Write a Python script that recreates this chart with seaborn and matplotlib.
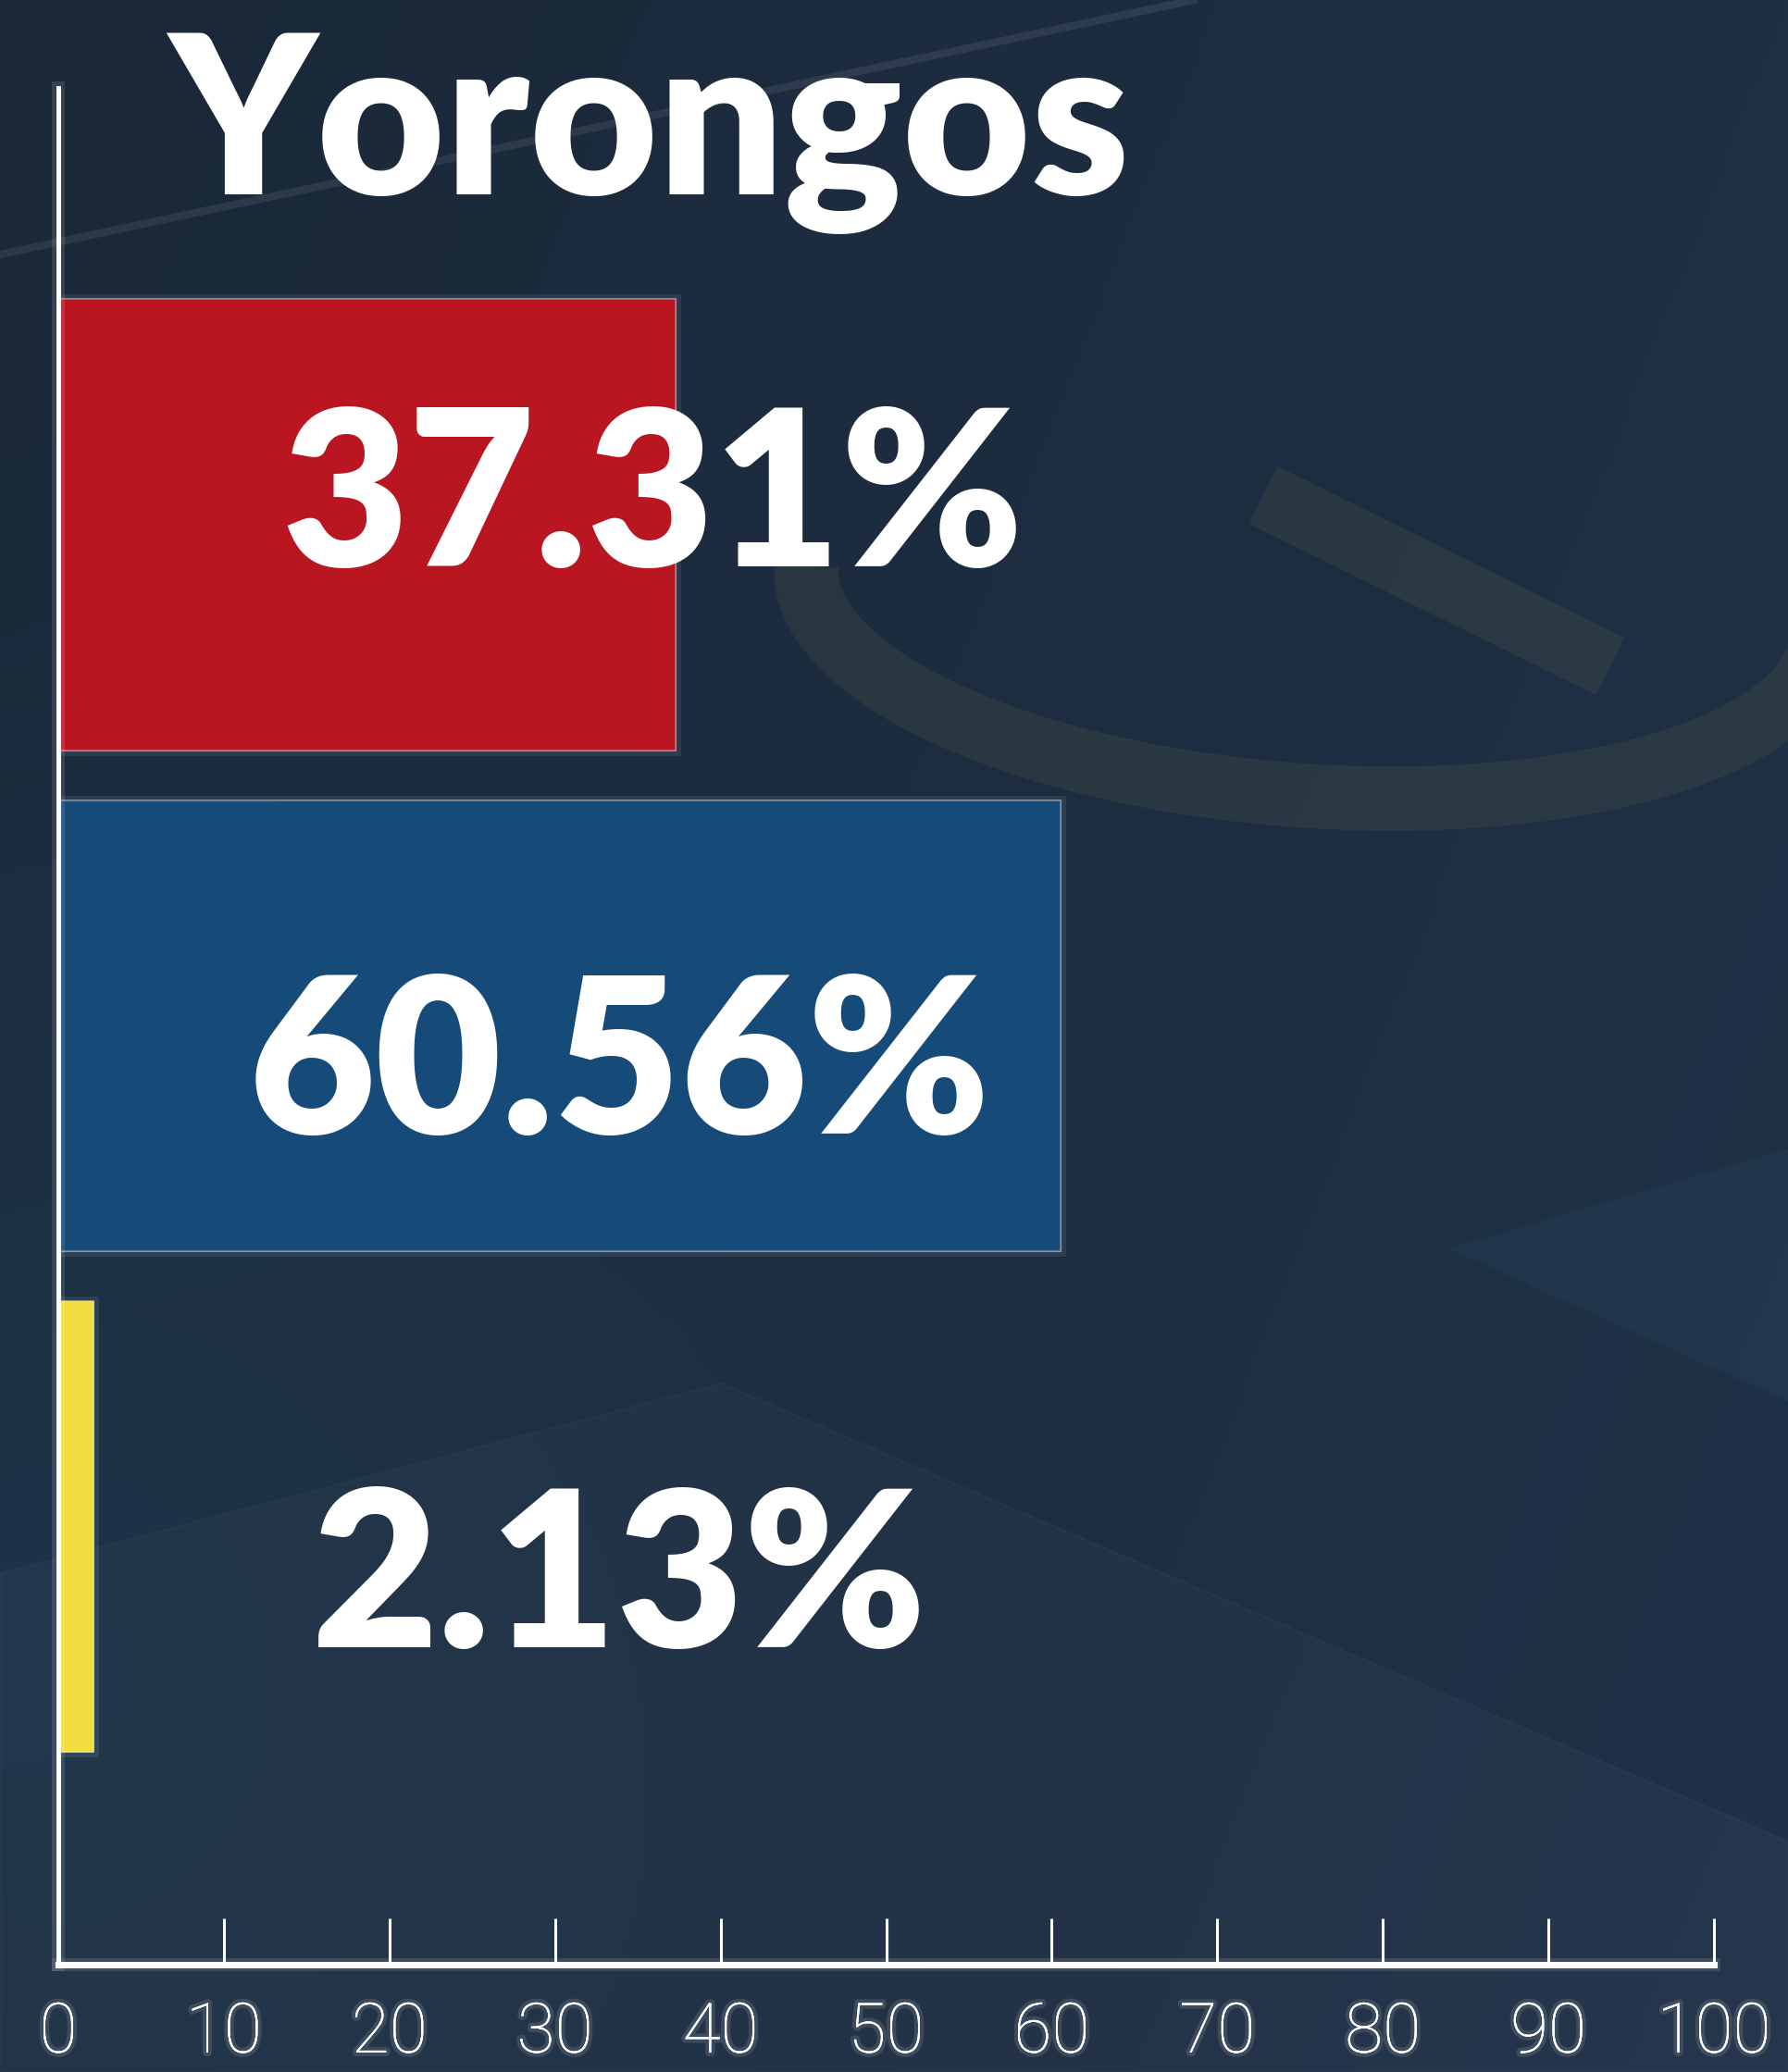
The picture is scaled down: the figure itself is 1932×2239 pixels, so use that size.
import numpy as np
import pandas as pd
import matplotlib
matplotlib.use("Agg")
import matplotlib.pyplot as plt
import matplotlib.patheffects as pe
from matplotlib.patches import Arc, Polygon
import seaborn as sns

# data
categories = ["Opción A", "Opción B", "Opción C"]
values = [37.31, 60.56, 2.13]
bar_colors = ["#BA1622", "#164A78", "#F2DD3F"]
title = "Yorongos"
xticks = list(range(0, 101, 10))

# label placement (data units): horizontal centre and drop below bar centre
label_x = [35.9, 33.9, 33.9]
label_dy = [0.083, 0.216, 0.240]

df = pd.DataFrame({"categoria": categories, "valor": values})

sns.set_style("white")
plt.rcParams["font.family"] = ["Lato", "DejaVu Sans"]

fig = plt.figure(figsize=(19.32, 22.39), dpi=100)

# background: dark navy gradient with some faint decoration
bg = fig.add_axes([0, 0, 1, 1])
bg.set_xlim(0, 1932)
bg.set_ylim(2239, 0)
bg.axis("off")
yy, xx = np.mgrid[0:1:300j, 0:1:260j]
c_dark = np.array([0x1a, 0x28, 0x38]) / 255
c_mid = np.array([0x22, 0x34, 0x4c]) / 255
c_teal = np.array([0x1f, 0x3a, 0x50]) / 255
t = np.clip(0.55 * xx + 0.25 * yy, 0, 1)[..., None]
img = c_dark * (1 - t) + c_mid * t
tl = np.clip(1 - np.hypot(xx - 0.0, yy - 0.8) / 0.6, 0, 1)[..., None] * 0.6
img = img * (1 - tl) + c_teal * tl
bg.imshow(img, extent=[0, 1932, 2239, 0], aspect="auto", zorder=0)
bg.plot([0, 1290], [275, 0], color="white", alpha=0.08, lw=6, zorder=1)
deco = "#4a5646"
bg.add_patch(Arc((1420, 650), 1100, 420, theta1=0, theta2=180, angle=4,
                 color=deco, alpha=0.28, lw=50, zorder=1))
bg.plot([1365, 1740], [535, 720], color=deco, alpha=0.28, lw=50,
        solid_capstyle="butt", zorder=1)
bg.add_patch(Polygon([[780, 1495], [1932, 1990], [1932, 2239], [0, 2239], [0, 1700]],
                     closed=True, facecolor="white", alpha=0.025, edgecolor="white",
                     lw=2, zorder=1))
bg.add_patch(Polygon([[1564, 1349], [1932, 1242], [1932, 1514]], closed=True,
                     facecolor="#2a6070", alpha=0.15, lw=0, zorder=1))

# chart
ax = fig.add_axes([63 / 1932, 1 - 2123 / 2239, (1852 - 63) / 1932, (2123 - 95) / 2239])
ax.patch.set_alpha(0)
sns.barplot(data=df, x="valor", y="categoria", hue="categoria", palette=bar_colors,
            orient="h", width=0.9, legend=False, saturation=1,
            edgecolor=(1, 1, 1, 0.25), linewidth=1.5, ax=ax)
glow = [pe.withStroke(linewidth=10, foreground=(1, 1, 1, 0.12))]
for p in ax.patches:
    p.set_path_effects([pe.withStroke(linewidth=8, foreground=(1, 1, 1, 0.08)), pe.Normal()])

ax.set_xlim(0, 100)
ax.set_ylim(2.874, -0.872)
ax.set_xticks(xticks)
ax.set_xticklabels([str(v) for v in xticks], family=["Roboto", "DejaVu Sans"],
                   fontweight="light", fontsize=54, color="white")
ax.set_yticks([])
ax.set_xlabel("")
ax.set_ylabel("")
ax.tick_params(axis="x", bottom=True, direction="in", length=36, width=2.2,
               color="white", pad=28)
for side in ["top", "right"]:
    ax.spines[side].set_visible(False)
ax.spines["left"].set_color("white")
ax.spines["left"].set_linewidth(3.4)
ax.spines["bottom"].set_color("white")
ax.spines["bottom"].set_linewidth(4.8)
for side in ["left", "bottom"]:
    ax.spines[side].set_path_effects(glow + [pe.Normal()])
for lab in ax.get_xticklabels():
    lab.set_path_effects([pe.withStroke(linewidth=6, foreground=(1, 1, 1, 0.12)), pe.Normal()])

for i, v in enumerate(values):
    ax.text(label_x[i], i + label_dy[i], f"{v:.2f}%", ha="center", va="baseline",
            fontsize=170, fontweight="heavy", color="white", zorder=5)

fig.text(182 / 1932, 1 - 210 / 2239, title, ha="left", va="baseline",
         fontsize=172, fontweight="heavy", color="white")

fig.savefig("out.png", dpi=100)
